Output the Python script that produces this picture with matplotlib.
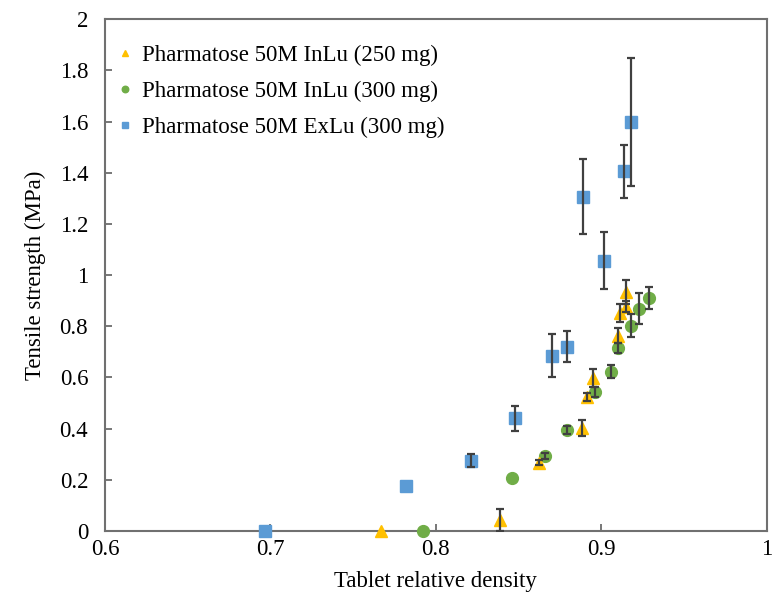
import numpy as np
import matplotlib
matplotlib.use('Agg')
from matplotlib import pyplot as plt

plt.rcParams['font.family'] = ['Liberation Serif', 'DejaVu Serif']

# Pharmatose 50M InLu (250 mg)
x_250 = [0.767, 0.839, 0.862, 0.888, 0.891, 0.895, 0.910, 0.911, 0.915, 0.915]
y_250 = [0.0, 0.043, 0.266, 0.403, 0.524, 0.599, 0.763, 0.853, 0.877, 0.935]
e_250 = [0.0, 0.043, 0.01, 0.03, 0.015, 0.035, 0.03, 0.035, 0.02, 0.047]

# Pharmatose 50M InLu (300 mg)
x_in300 = [0.792, 0.846, 0.866, 0.879, 0.896, 0.906, 0.910, 0.918, 0.923, 0.929]
y_in300 = [0.0, 0.207, 0.293, 0.395, 0.544, 0.622, 0.716, 0.802, 0.869, 0.912]
e_in300 = [0.0, 0.0, 0.01, 0.015, 0.02, 0.025, 0.02, 0.045, 0.06, 0.043]

# Pharmatose 50M ExLu (300 mg)
x_ex300 = [0.697, 0.782, 0.821, 0.848, 0.870, 0.879, 0.889, 0.9015, 0.9136, 0.918]
y_ex300 = [0.0, 0.176, 0.274, 0.44, 0.685, 0.72, 1.307, 1.057, 1.405, 1.597]
e_ex300 = [0.0, 0.0, 0.025, 0.05, 0.085, 0.06, 0.145, 0.11, 0.105, 0.25]

labels = ['Pharmatose 50M InLu (250 mg)',
          'Pharmatose 50M InLu (300 mg)',
          'Pharmatose 50M ExLu (300 mg)']

fig = plt.figure(figsize=(7.77, 6.02), dpi=100)
ax = fig.add_axes([0.135, 0.118, 0.852, 0.850])

series = [(x_ex300, y_ex300, e_ex300, 's', 9, '#5B9BD5', labels[2]),
          (x_in300, y_in300, e_in300, 'o', 8.5, '#70AD47', labels[1]),
          (x_250, y_250, e_250, '^', 8.5, '#FFC000', labels[0])]
handles = []
for xs, ys, es, mk, size, col, lab in series:
    xs, ys, es = np.array(xs), np.array(ys), np.array(es)
    ln, = ax.plot(xs, ys, linestyle='none', marker=mk, ms=size, color=col,
                  label=lab, zorder=3, clip_on=False)
    handles.append(ln)
    # error bars only where there is one, drawn over the markers
    m = es > 0
    ax.errorbar(xs[m], ys[m], yerr=es[m], fmt='none', ecolor='#404040',
                elinewidth=1.6, capsize=3, capthick=1.6, zorder=4)

ax.set_xlim(0.6, 1.0)
ax.set_ylim(0, 2)
ax.set_xticks([0.6, 0.7, 0.8, 0.9, 1.0])
ax.set_xticklabels(['0.6', '0.7', '0.8', '0.9', '1'])
ax.set_yticks(np.arange(0, 2.01, 0.2))
ax.set_yticklabels(['0', '0.2', '0.4', '0.6', '0.8', '1', '1.2', '1.4', '1.6', '1.8', '2'])

ax.tick_params(axis='x', direction='in', length=5, width=1.2, color='#606060',
               labelsize=16.5, pad=6)
ax.tick_params(axis='y', direction='in', length=5, width=1.2, color='#606060',
               labelsize=16.5, pad=12)
for s in ax.spines.values():
    s.set_color('#707070')
    s.set_linewidth(1.5)

ax.set_xlabel('Tablet relative density', fontsize=16.5, labelpad=8)
ax.set_ylabel('Tensile strength (MPa)', fontsize=16.5, labelpad=10)

leg = ax.legend(handles[::-1], labels, loc='upper left', frameon=False, fontsize=16.5,
                markerscale=0.55, handlelength=0.5, handletextpad=0.5,
                labelspacing=0.65, borderaxespad=0.5, bbox_to_anchor=(-0.01, 0.99))

fig.savefig('out.png', dpi=100)
